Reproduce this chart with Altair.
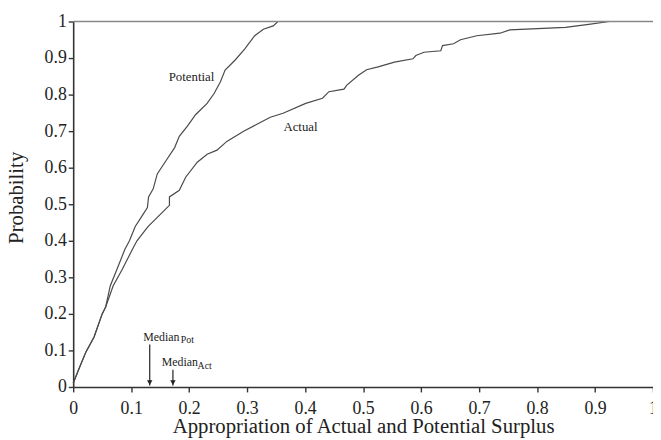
import altair as alt
import pandas as pd

# Potential surplus CDF (x = appropriation, p = probability)
pot_x = [0.000, 0.010, 0.022, 0.036, 0.050, 0.056, 0.064, 0.075, 0.089, 0.097,
         0.107, 0.118, 0.128, 0.130, 0.138, 0.145, 0.160, 0.175, 0.183, 0.197,
         0.211, 0.231, 0.243, 0.254, 0.262, 0.279, 0.296, 0.313, 0.328, 0.345,
         0.353, 1.000]
pot_p = [0.010, 0.050, 0.096, 0.137, 0.200, 0.219, 0.277, 0.320, 0.376, 0.400,
         0.439, 0.466, 0.491, 0.520, 0.542, 0.583, 0.619, 0.655, 0.686, 0.714,
         0.745, 0.776, 0.803, 0.835, 0.867, 0.894, 0.925, 0.961, 0.979, 0.988,
         1.000, 1.000]

# Actual surplus CDF
act_x = [0.000, 0.010, 0.022, 0.036, 0.050, 0.056, 0.069, 0.084, 0.102, 0.110,
         0.129, 0.152, 0.166, 0.166, 0.183, 0.194, 0.214, 0.231, 0.248, 0.265,
         0.294, 0.316, 0.340, 0.362, 0.401, 0.430, 0.441, 0.467, 0.472, 0.492,
         0.506, 0.526, 0.554, 0.586, 0.591, 0.605, 0.634, 0.637, 0.656, 0.668,
         0.696, 0.736, 0.753, 0.849, 0.889, 0.925, 1.000]
act_p = [0.010, 0.050, 0.096, 0.137, 0.200, 0.219, 0.277, 0.320, 0.376, 0.400,
         0.439, 0.475, 0.497, 0.520, 0.538, 0.574, 0.615, 0.637, 0.648, 0.672,
         0.700, 0.718, 0.738, 0.749, 0.776, 0.790, 0.808, 0.815, 0.826, 0.853,
         0.868, 0.876, 0.889, 0.898, 0.907, 0.916, 0.920, 0.934, 0.939, 0.950,
         0.961, 0.968, 0.977, 0.984, 0.992, 1.000, 1.000]

x_ticks = [0, 0.1, 0.2, 0.3, 0.4, 0.5, 0.6, 0.7, 0.8, 0.9, 1.0]
y_ticks = [0, 0.1, 0.2, 0.3, 0.4, 0.5, 0.6, 0.7, 0.8, 0.9, 1.0]

# curve labels
lab_text = ["Potential", "Actual"]
lab_x = [0.204, 0.392]
lab_p = [0.849, 0.711]

# median annotations
med_x = [0.132, 0.172]
med_top = [0.116, 0.047]
med_word_x = [0.1207, 0.1528]
med_word_p = [0.137, 0.0676]
med_sub = ["Pot", "Act"]
med_sub_x = [0.1855, 0.2146]
med_sub_p = [0.128, 0.0576]

FONT = "Liberation Serif"
INK = "#222222"

curves = pd.DataFrame({
    "x": pot_x + act_x,
    "p": pot_p + act_p,
    "series": ["Potential"] * len(pot_x) + ["Actual"] * len(act_x),
    "order": list(range(len(pot_x))) + list(range(len(act_x))),
})

xs = alt.Scale(domain=[0, 1], nice=False, zero=False)
ys = alt.Scale(domain=[0, 1], nice=False, zero=False)

x_axis = alt.Axis(values=x_ticks, format=".1~f", grid=False, tickSize=5,
                  labelPadding=8, labelFontSize=18, labelFont=FONT,
                  labelColor=INK, titleFont=FONT, titleFontSize=21,
                  titleFontWeight="normal", titleColor=INK, titleY=46,
                  titleBaseline="alphabetic", domainColor="#333333",
                  tickColor="#333333", domainWidth=1.6, tickWidth=1.4,
                  labelFlush=False, labelOverlap=False)
y_axis = alt.Axis(values=y_ticks, format=".1~f", grid=False, tickSize=5,
                  labelPadding=2, labelFontSize=18, labelFont=FONT,
                  labelColor=INK, titleFont=FONT, titleFontSize=21,
                  titleFontWeight="normal", titleColor=INK, titleX=-51,
                  titleY=178, titleBaseline="alphabetic",
                  domainColor="#333333", tickColor="#333333",
                  domainWidth=1.6, tickWidth=1.4, labelFlush=False,
                  labelOverlap=False)

XT = "Appropriation of Actual and Potential Surplus"
YT = "Probability"


def enc_x(field):
    return alt.X(field, scale=xs, axis=x_axis, title=XT)


def enc_y(field):
    return alt.Y(field, scale=ys, axis=y_axis, title=YT)


lines = alt.Chart(curves).mark_line(strokeWidth=1.2, color="#4a4a4a").encode(
    x=enc_x("x:Q"),
    y=enc_y("p:Q"),
    detail="series:N",
    order="order:Q",
)

top_line = alt.Chart(pd.DataFrame({"p": [1.0]})).mark_rule(
    color="#888888", strokeWidth=1.6).encode(y=enc_y("p:Q"))

labels = alt.Chart(pd.DataFrame({"t": lab_text, "x": lab_x, "p": lab_p})).mark_text(
    font=FONT, fontSize=13, color=INK, align="center", baseline="middle"
).encode(x=enc_x("x:Q"), y=enc_y("p:Q"), text="t:N")

med_df = pd.DataFrame({"x": med_x, "top": med_top, "bot": [0.004, 0.004]})
med_rules = alt.Chart(med_df).mark_rule(color=INK, strokeWidth=1.2).encode(
    x=enc_x("x:Q"), y=enc_y("top:Q"), y2="bot:Q")
med_heads = alt.Chart(med_df).mark_point(
    shape="triangle-down", filled=True, color=INK, size=30, opacity=1
).encode(x=enc_x("x:Q"), y=enc_y("bot:Q"), yOffset=alt.value(-3))

med_words = alt.Chart(pd.DataFrame({"x": med_word_x, "p": med_word_p,
                                    "t": ["Median", "Median"]})).mark_text(
    font=FONT, fontSize=12, color=INK, align="left", baseline="middle"
).encode(x=enc_x("x:Q"), y=enc_y("p:Q"), text="t:N")

med_subs = alt.Chart(pd.DataFrame({"x": med_sub_x, "p": med_sub_p,
                                   "t": med_sub})).mark_text(
    font=FONT, fontSize=10, color=INK, align="left", baseline="middle"
).encode(x=enc_x("x:Q"), y=enc_y("p:Q"), text="t:N")

chart = alt.layer(lines, top_line, labels, med_rules, med_heads, med_words,
                  med_subs).properties(
    width=587, height=370,
    padding={"left": 66, "top": 11, "right": 0, "bottom": 51},
    autosize=alt.AutoSizeParams(type="none"),
    background="white",
).configure_view(stroke=None)

chart.save("out.html", embed_options={"renderer": "svg", "actions": False})
